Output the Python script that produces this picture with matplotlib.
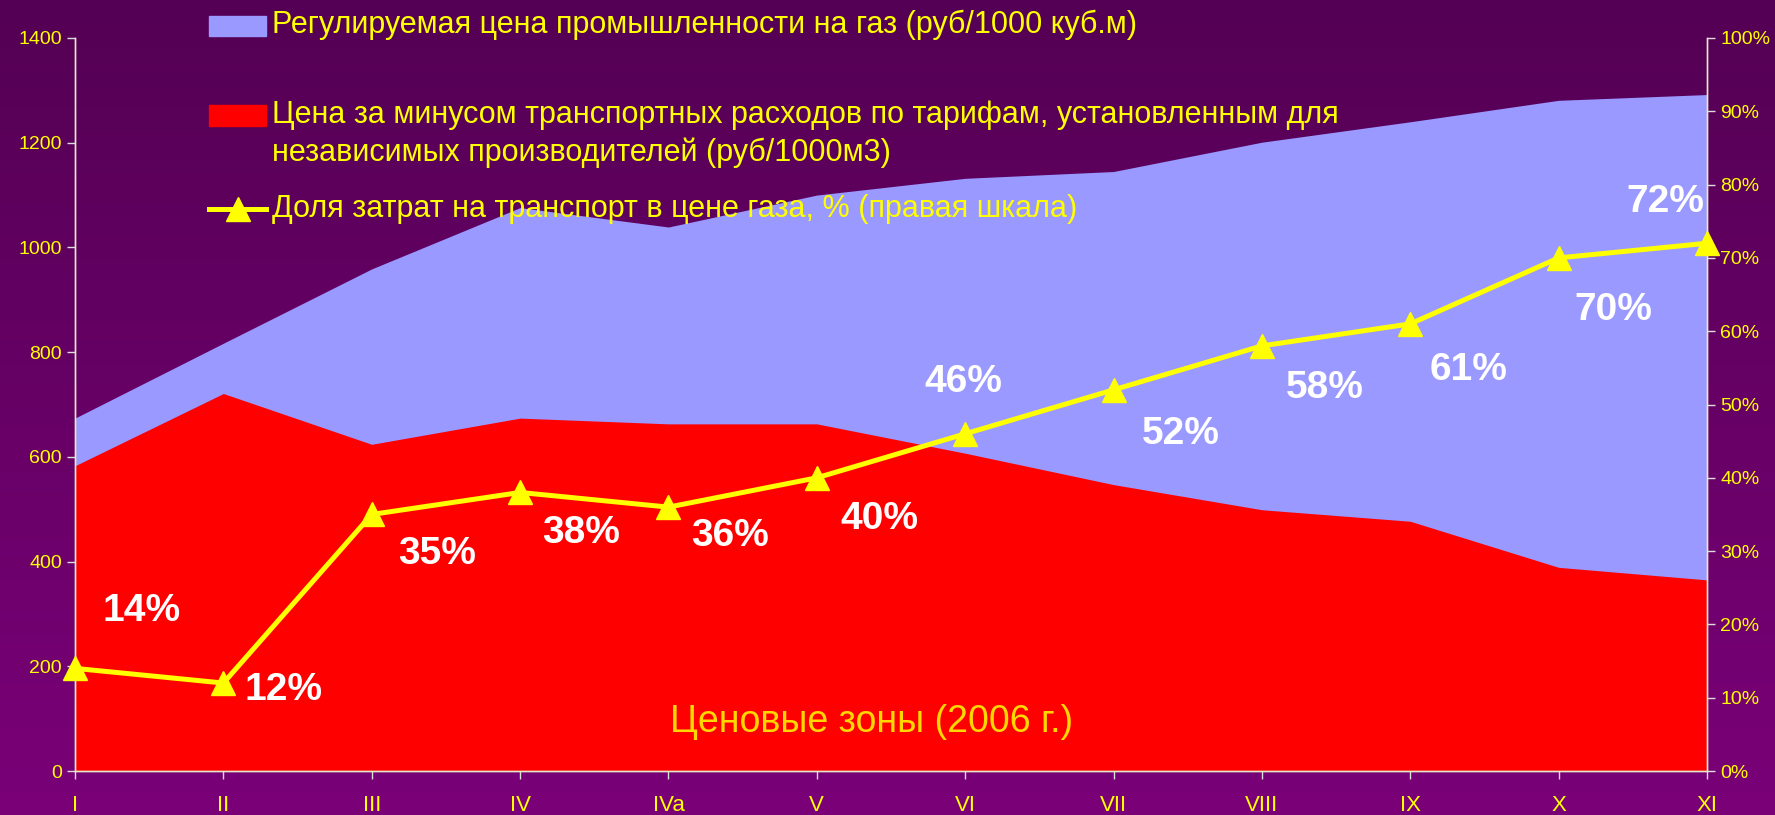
import numpy as np
import matplotlib
matplotlib.use('Agg')
import matplotlib.pyplot as plt
from matplotlib import font_manager
from matplotlib.colors import LinearSegmentedColormap
from matplotlib.patches import Rectangle
from matplotlib.lines import Line2D

# data
zones = ['I', 'II', 'III', 'IV', 'IVa', 'V', 'VI', 'VII', 'VIII', 'IX', 'X', 'XI']
regulated_price = [674, 817, 959, 1076, 1039, 1100, 1132, 1145, 1201, 1240, 1281, 1292]
netback_price = [583, 721, 624, 674, 663, 663, 607, 547, 499, 477, 389, 365]
transport_share = [14, 12, 35, 38, 36, 40, 46, 52, 58, 61, 70, 72]

left_ticks = [0, 200, 400, 600, 800, 1000, 1200, 1400]
right_ticks = [0, 10, 20, 30, 40, 50, 60, 70, 80, 90, 100]

# where the % labels sit relative to their point (pixels)
label_offsets = [(67, 57), (60, -7), (65, -40), (61, -41), (62, -29), (63, -41),
                 (-2, 52), (67, -44), (63, -42), (58, -46), (55, -52), (-42, 41)]

names = {f.name for f in font_manager.fontManager.ttflist}
narrow = 'Liberation Sans Narrow' if 'Liberation Sans Narrow' in names else 'Liberation Sans'
plt.rcParams['font.family'] = ['Liberation Sans', 'DejaVu Sans']

W, H = 1775, 815
fig = plt.figure(figsize=(W / 100, H / 100), dpi=100)

# purple gradient background
bg = fig.add_axes([0, 0, 1, 1])
bg.axis('off')
grad = np.linspace(0, 1, 256).reshape(-1, 1)
cmap = LinearSegmentedColormap.from_list('bg', ['#540054', '#7a0078'])
bg.imshow(grad, aspect='auto', cmap=cmap, extent=[0, 1, 0, 1], origin='upper')

L, R, T, B = 75, 1707, 38, 771
ax = fig.add_axes([L / W, 1 - B / H, (R - L) / W, (B - T) / H])
ax.set_facecolor('none')
x = np.arange(len(zones))
ax.fill_between(x, 0, regulated_price, color='#9999ff', lw=0)
ax.fill_between(x, 0, netback_price, color='#ff0000', lw=0)
ax.set_xlim(0, len(zones) - 1)
ax.set_ylim(0, 1400)
ax.set_yticks(left_ticks)
ax.set_xticks(x)
ax.set_xticklabels(zones, family=[narrow, 'DejaVu Sans'], fontsize=16)
ax.tick_params(axis='y', colors='#dddddd', labelcolor='#ffff00', labelsize=14,
               length=6, width=1)
ax.tick_params(axis='x', colors='#dddddd', labelcolor='#ffff00', length=6,
               width=1, pad=11)

ax2 = ax.twinx()
ax2.set_ylim(0, 100)
ax2.set_yticks(right_ticks)
ax2.set_yticklabels([f'{t}%' for t in right_ticks])
ax2.tick_params(axis='y', colors='#dddddd', labelcolor='#ffff00', labelsize=14,
                length=6, width=1)
ax2.plot(x, transport_share, color='#ffff00', lw=3.6, marker='^', ms=17,
         clip_on=False, zorder=5)
for xi, v, off in zip(x, transport_share, label_offsets):
    ax2.annotate(f'{v}%', (xi, v), xytext=off, textcoords='offset pixels',
                 ha='center', va='center', color='white', fontsize=28,
                 fontweight='bold', zorder=6)

for a in (ax, ax2):
    a.spines['top'].set_visible(False)
    for s in ('left', 'right', 'bottom'):
        a.spines[s].set_color('#e8e8c8')
        a.spines[s].set_linewidth(1)

ax.text(0.488, 0.067, 'Ценовые зоны (2006 г.)', transform=ax.transAxes,
        ha='center', va='center', color='#ffd800', fontsize=27)

# legend drawn by hand (rows are unevenly spaced in the original)
def fx(px):
    return px / W

def fy(py):
    return 1 - py / H

leg_font = dict(family=[narrow, 'DejaVu Sans'], fontsize=22, color='#ffff00',
                va='center', ha='left')
fig.add_artist(Rectangle((fx(209), fy(36)), fx(57), 20 / H, color='#9999ff',
                         transform=fig.transFigure))
fig.text(fx(272), fy(25), 'Регулируемая цена промышленности на газ (руб/1000 куб.м)',
         **leg_font)
fig.add_artist(Rectangle((fx(209), fy(126)), fx(57), 21 / H, color='#ff0000',
                         transform=fig.transFigure))
fig.text(fx(272), fy(115), 'Цена за минусом транспортных расходов по тарифам, установленным для',
         **leg_font)
fig.text(fx(272), fy(153), 'независимых производителей (руб/1000м3)', **leg_font)
fig.add_artist(Line2D([fx(209), fx(266)], [fy(209), fy(209)], color='#ffff00',
                      lw=3.6, transform=fig.transFigure))
fig.add_artist(Line2D([fx(238)], [fy(209)], color='#ffff00', marker='^', ms=17,
                      transform=fig.transFigure))
fig.text(fx(272), fy(209), 'Доля затрат на транспорт в цене газа, % (правая шкала)',
         **leg_font)

fig.savefig('out.png', dpi=100)
